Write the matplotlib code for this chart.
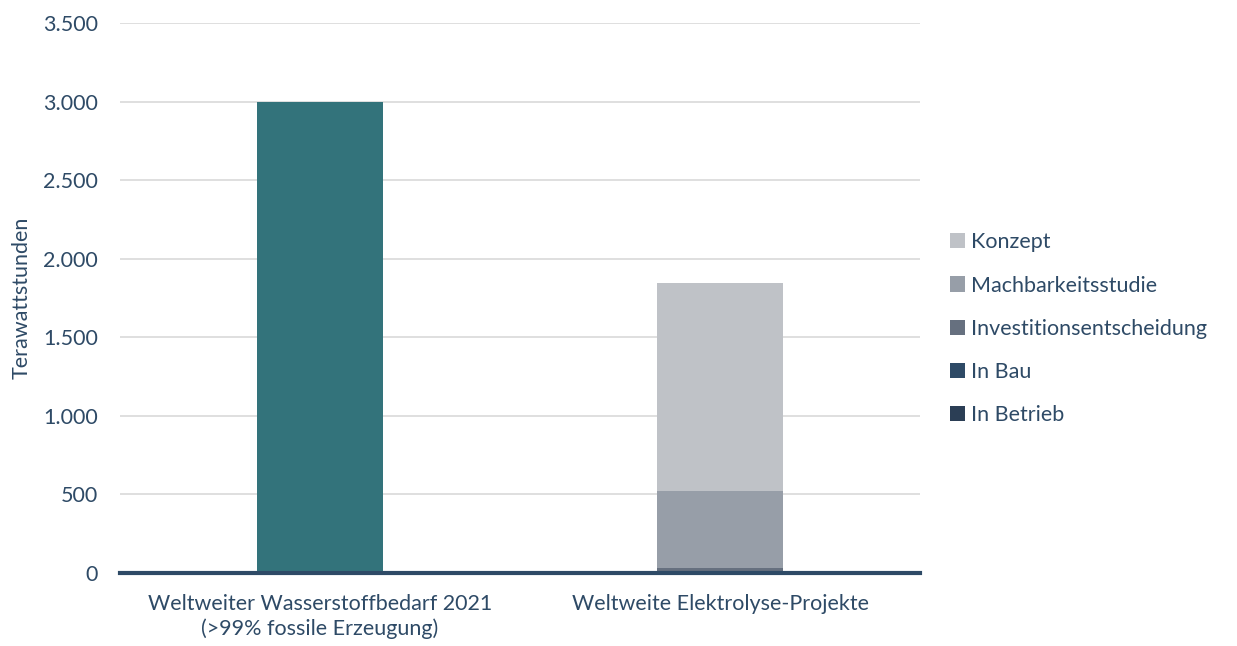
import matplotlib.pyplot as plt
import numpy as np
from matplotlib.ticker import FuncFormatter

plt.rcParams['font.family'] = ['Lato', 'DejaVu Sans']

categories = ['Weltweiter Wasserstoffbedarf 2021\n(>99% fossile Erzeugung)',
              'Weltweite Elektrolyse-Projekte']
demand = [3000, 0]

# stacked project stages, bottom to top
stages = ['In Betrieb', 'In Bau', 'Investitionsentscheidung',
          'Machbarkeitsstudie', 'Konzept']
stage_values = [
    [0, 5],
    [0, 10],
    [0, 20],
    [0, 490],
    [0, 1320],
]
stage_colors = ['#2B3E55', '#2E4A66', '#66707F', '#979EA8', '#BFC2C7']
text_color = '#2E4A66'
fs = 15.5

fig = plt.figure(figsize=(12.37, 6.46), dpi=100)
ax = fig.add_axes([0.097, 0.113, 0.647, 0.851])

x = np.arange(len(categories))
width = 0.315

ax.bar(x[0], demand[0], width, color='#33737B', zorder=2)

bottom = np.zeros(len(categories))
handles = []
for name, vals, col in zip(stages, stage_values, stage_colors):
    vals = np.array(vals, dtype=float)
    h = ax.bar(x[1], vals[1], width, bottom=bottom[1], color=col,
               label=name, zorder=2)
    handles.append(h)
    bottom += vals

ax.set_xlim(-0.5, 1.5)
ax.set_ylim(0, 3500)
ax.set_yticks(np.arange(0, 3501, 500))
ax.yaxis.set_major_formatter(FuncFormatter(lambda v, p: f'{int(v):,}'.replace(',', '.')))
ax.grid(axis='y', color='#D9D9D9', linewidth=1.2, zorder=0)
ax.set_xticks(x)
ax.set_xticklabels(categories, linespacing=1.25)
ax.tick_params(length=0, labelsize=fs, colors=text_color)
ax.tick_params(axis='x', pad=15)
ax.tick_params(axis='y', pad=16)

for s in ['top', 'right', 'left']:
    ax.spines[s].set_visible(False)
ax.spines['bottom'].set_color('#2E4A66')
ax.spines['bottom'].set_linewidth(3)
ax.spines['bottom'].set_zorder(3)

ax.set_ylabel('Terawattstunden', fontsize=fs, color=text_color, labelpad=8)

leg = fig.legend(handles[::-1], stages[::-1], loc='center left',
                 bbox_to_anchor=(0.752, 0.491), frameon=False, fontsize=fs,
                 handlelength=0.7, handleheight=0.7, handletextpad=0.3,
                 labelspacing=1.08)
for t in leg.get_texts():
    t.set_color(text_color)

fig.savefig('out.png', dpi=100)
